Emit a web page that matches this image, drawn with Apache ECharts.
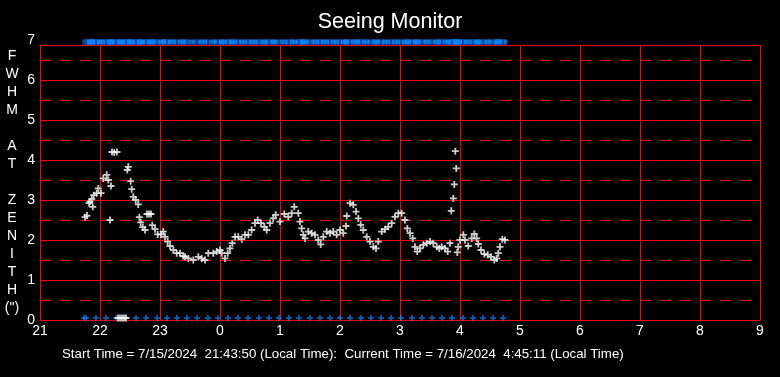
<!DOCTYPE html>
<html>
<head>
<meta charset="utf-8">
<title>Seeing Monitor</title>
<script src="https://cdn.jsdelivr.net/npm/echarts@6/dist/echarts.min.js"></script>
<style>
  html, body { margin: 0; padding: 0; background: #000; }
  #chart { width: 780px; height: 377px; }
</style>
</head>
<body>
<div id="chart"></div>
<script>
// 时间：从 7/15 0 点起的小时数（超过 24 即次日凌晨）
const seeingTimes = [
  21.750, 21.783, 21.817, 21.833, 21.862, 21.880, 21.895, 21.945, 21.972, 22.017,
  22.055, 22.112, 22.138, 22.167, 22.183, 22.200, 22.238, 22.283,
  22.300, 22.333, 22.367, 22.400, 22.433,
  22.455, 22.472, 22.512, 22.528, 22.555, 22.595, 22.638, 22.655, 22.678, 22.712,
  22.750, 22.783, 22.817, 22.850, 22.872, 22.917, 22.962, 23.017, 23.055, 23.083,
  23.128, 23.167, 23.222, 23.278, 23.333, 23.388, 23.417, 23.472, 23.555, 23.638,
  23.695, 23.750, 23.805, 23.888, 23.945, 24.000, 24.028, 24.083, 24.128, 24.167,
  24.205, 24.250, 24.305, 24.362, 24.417, 24.472, 24.528, 24.583, 24.628, 24.683,
  24.738, 24.778, 24.833, 24.888, 24.928, 25.000, 25.072, 25.138, 25.195, 25.238,
  25.305, 25.333, 25.362, 25.388, 25.417, 25.472, 25.528, 25.583, 25.638, 25.678,
  25.722, 25.778, 25.833, 25.888, 25.945, 26.000, 26.055, 26.100, 26.112, 26.167,
  26.222, 26.267, 26.305, 26.345, 26.388, 26.445, 26.500, 26.555, 26.600, 26.638,
  26.695, 26.750, 26.805, 26.862, 26.917, 26.972, 27.028, 27.083, 27.122, 27.167,
  27.212, 27.250, 27.288, 27.333, 27.388, 27.445, 27.500, 27.555, 27.612, 27.655,
  27.695, 27.750, 27.795, 27.833, 27.855, 27.888, 27.905, 27.922, 27.938, 27.955,
  27.972, 28.000, 28.055, 28.083, 28.138, 28.195, 28.238, 28.278, 28.305, 28.350,
  28.405, 28.462, 28.517, 28.572, 28.612, 28.638, 28.667, 28.705, 28.750
];
const seeingFwhm = [
  2.57, 2.61, 2.92, 2.96, 3.02, 2.83, 3.12, 3.17, 3.29, 3.17,
  3.54, 3.63, 3.50, 2.50, 3.35, 4.20, 4.19, 4.20,
  0.05, 0.05, 0.05, 0.05, 0.05,
  3.75, 3.83, 3.47, 3.27, 3.08, 3.00, 2.89, 2.57, 2.44, 2.32,
  2.25, 2.65, 2.65, 2.65, 2.37, 2.27, 2.14, 2.14, 2.21, 2.08,
  1.96, 1.85, 1.75, 1.67, 1.67, 1.60, 1.58, 1.54, 1.50, 1.58,
  1.54, 1.50, 1.67, 1.67, 1.71, 1.75, 1.67, 1.54, 1.67, 1.79,
  1.92, 2.08, 2.08, 2.02, 2.13, 2.13, 2.25, 2.42, 2.50, 2.42,
  2.33, 2.25, 2.42, 2.54, 2.63, 2.46, 2.65, 2.58, 2.67, 2.83,
  2.67, 2.46, 2.29, 2.13, 2.04, 2.21, 2.17, 2.13, 2.00, 1.89,
  2.08, 2.21, 2.17, 2.21, 2.13, 2.25, 2.17, 2.35, 2.60, 2.92,
  2.88, 2.71, 2.54, 2.38, 2.25, 2.08, 1.96, 1.83, 1.79, 1.96,
  2.21, 2.27, 2.33, 2.42, 2.58, 2.67, 2.67, 2.50, 2.29, 2.17,
  2.04, 1.83, 1.71, 1.79, 1.88, 1.92, 1.96, 1.92, 1.83, 1.79,
  1.83, 1.79, 1.71, 1.92, 2.73, 3.04, 3.39, 4.22, 3.79, 1.69,
  1.83, 2.00, 2.13, 2.00, 1.85, 2.04, 2.15, 2.04, 1.90, 1.75,
  1.65, 1.63, 1.58, 1.50, 1.54, 1.67, 1.83, 2.02, 2.00
];

// 蓝色标记：21:00 之后的分钟数
const flagMinutes = [
  44, 46, 56, 66, 76, 86, 96, 106, 117, 127, 137, 147, 157, 168, 178, 188,
  198, 208, 219, 229, 239, 249, 259, 270, 280, 290, 300, 310, 321, 331, 341,
  351, 361, 372, 382, 392, 402, 412, 423, 433, 443, 453, 463
];

const xTickLabels = ['21', '22', '23', '0', '1', '2', '3', '4', '5', '6', '7', '8', '9'];
const yTickLabels = ['0', '1', '2', '3', '4', '5', '6', '7'];
const halfLines = [0.5, 1.5, 2.5, 3.5, 4.5, 5.5, 6.5];

// 竖排坐标轴标题，每行一个字符，空格为空行
const yAxisTitleLines = ['F', 'W', 'H', 'M', ' ', 'A', 'T', ' ', 'Z', 'E', 'N', 'I', 'T', 'H', '(")'];
const footerText = 'Start Time = 7/15/2024  21:43:50 (Local Time):  Current Time = 7/16/2024  4:45:11 (Local Time)';

const RED = '#ff0000';
const BLUE = '#0a84ff';
const FONT = 'Liberation Sans';
const PLUS = 'path://M2.6,0H4.4V7H2.6Z M0,2.6H7V4.4H0Z';

const chart = echarts.init(document.getElementById('chart'), null, { renderer: 'canvas' });

const seeingData = seeingTimes.map((t, i) => [t, seeingFwhm[i]]);
const flagTimes = flagMinutes.map(m => 21 + m / 60);

const option = {
  backgroundColor: '#000',
  animation: false,
  title: [
    {
      text: 'Seeing Monitor',
      left: 'center',
      top: 11,
      padding: 0,
      textStyle: { color: '#fff', fontSize: 21.5, fontWeight: 'normal', fontFamily: FONT }
    },
    {
      text: footerText,
      left: 62,
      top: 348,
      padding: 0,
      textStyle: { color: '#fff', fontSize: 13.3, fontWeight: 'normal', fontFamily: FONT }
    }
  ],
  grid: { left: 40, right: 20, top: 45, bottom: 57 },
  xAxis: {
    type: 'value',
    min: 21,
    max: 33,
    interval: 1,
    axisLine: { show: true, lineStyle: { color: RED, width: 1 } },
    axisTick: { show: false },
    axisLabel: {
      color: '#fff', fontSize: 14, fontFamily: FONT, margin: 4,
      formatter: v => xTickLabels[Math.round(v - 21)]
    },
    splitLine: { show: true, lineStyle: { color: RED, width: 1 } }
  },
  yAxis: {
    type: 'value',
    min: 0,
    max: 6.875,   // 原图顶部被截掉一点
    interval: 1,
    name: yAxisTitleLines.join('\n'),
    nameLocation: 'middle',
    nameRotate: 0,
    nameGap: 28,
    nameTextStyle: {
      color: '#fff', fontSize: 14, fontFamily: FONT, lineHeight: 18, align: 'center',
      padding: [0, 0, 4, 0]
    },
    axisLine: { show: true, lineStyle: { color: RED, width: 1 } },
    axisTick: { show: false },
    axisLabel: {
      color: '#fff', fontSize: 14, fontFamily: FONT, margin: 5,
      formatter: v => v > 6.5 ? '{t|' + yTickLabels[7] + '}' : yTickLabels[Math.round(v)],
      rich: { t: { color: '#fff', fontSize: 14, fontFamily: FONT, padding: [0, 0, 10, 0] } }
    },
    splitLine: { show: true, lineStyle: { color: RED, width: 1 } }
  },
  series: [
    {
      // 半格虚线 + 顶部蓝色条带
      name: 'top',
      type: 'scatter',
      silent: true,
      clip: false,
      z: 1,
      symbol: 'rect',
      symbolSize: [5, 5],
      symbolOffset: [0, 2],
      itemStyle: { color: BLUE },
      data: seeingTimes.map(t => [t, 7]),
      markLine: {
        silent: true,
        z: 1,
        symbol: 'none',
        label: { show: false },
        lineStyle: { color: RED, width: 1, type: [11, 9] },
        data: halfLines.map(v => ({ yAxis: v }))
      }
    },
    {
      name: 'topTicks',
      type: 'scatter',
      silent: true,
      clip: false,
      z: 3,
      symbol: 'rect',
      symbolSize: [1, 5],
      symbolOffset: [0, 2],
      itemStyle: { color: '#000' },
      data: flagTimes.map(t => [t, 7])
    },
    {
      name: 'bottomFlags',
      type: 'scatter',
      silent: true,
      clip: false,
      z: 4,
      symbol: PLUS,
      symbolSize: 6,
      symbolOffset: [0, -2],
      itemStyle: { color: BLUE },
      data: flagTimes.map(t => [t, 0])
    },
    {
      name: 'FWHM',
      type: 'scatter',
      silent: true,
      clip: false,
      z: 5,
      symbol: PLUS,
      symbolSize: 7,
      itemStyle: { color: '#fff' },
      data: seeingData
    }
  ]
};

chart.setOption(option);
</script>
</body>
</html>
